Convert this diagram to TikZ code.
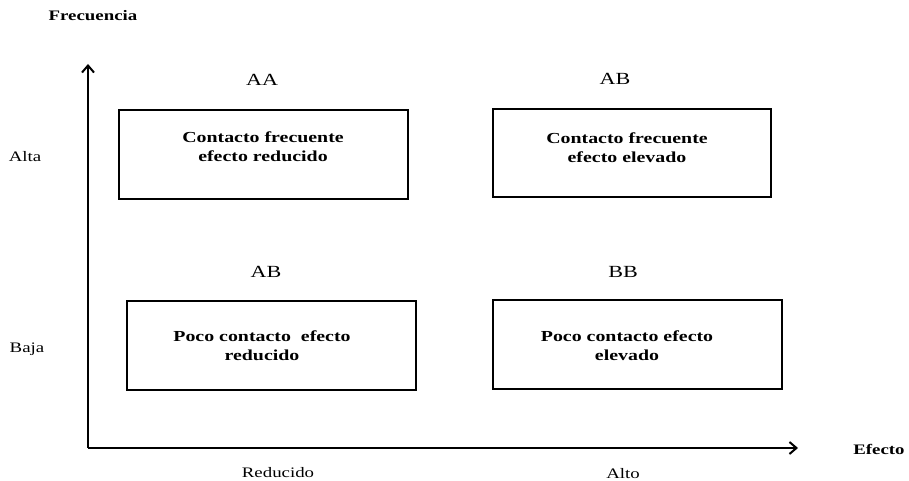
\documentclass[tikz,border=0pt]{standalone}
\usepackage{fontspec}
\setmainfont{Liberation Serif}[FakeStretch=1.3]
\usetikzlibrary{arrows.meta}
\begin{document}
\begin{tikzpicture}[x=1pt,y=-1pt,
  quad/.style={draw,line width=1.4pt,inner sep=0pt},
  boxtext/.style={font=\fontsize{15.3}{19}\selectfont\bfseries,align=center},
  tag/.style={font=\fontsize{17}{20}\selectfont},
  axislabel/.style={font=\fontsize{14.5}{17}\selectfont},
  axistitle/.style={font=\fontsize{14.5}{17}\selectfont\bfseries},
  axisline/.style={line width=2.4pt,-{Straight Barb[length=7pt,width=12pt,line width=2pt]}}]
\useasboundingbox (0,0) rectangle (909,481);
% boxes
\draw[quad] (119,110) rectangle (408,199);
\draw[quad] (493,109) rectangle (771,197);
\draw[quad] (127,301) rectangle (416,390);
\draw[quad] (493,300) rectangle (782,389);
\node[boxtext] (t1) at (263,147) {Contacto frecuente\\efecto reducido};
\node[boxtext] (t2) at (627,148) {Contacto frecuente\\efecto elevado};
\node[boxtext] (t3) at (262,346) {Poco contacto\ \ efecto\\reducido};
\node[boxtext] (t4) at (627,346) {Poco contacto efecto\\elevado};
% tags
\node[tag] (aa) at (262,80) {AA};
\node[tag] (ab1) at (615,79) {AB};
\node[tag] (ab2) at (266,272) {AB};
\node[tag] (bb) at (623,272) {BB};
% axes
\coordinate (o) at (88,448);
\coordinate (ytop) at (88,64);
\coordinate (xend) at (798,448);
\draw[axisline] (o) -- (ytop);
\draw[axisline] (o) -- (xend);
\node[axistitle] (fy) at (93,16) {Frecuencia};
\node[axistitle] (fx) at (879,449) {Efecto};
\node[axislabel] (alta) at (25,157) {Alta};
\node[axislabel] (baja) at (27,349) {Baja};
\node[axislabel] (red) at (278,473) {Reducido};
\node[axislabel] (alto) at (623,474) {Alto};
\end{tikzpicture}
\end{document}
